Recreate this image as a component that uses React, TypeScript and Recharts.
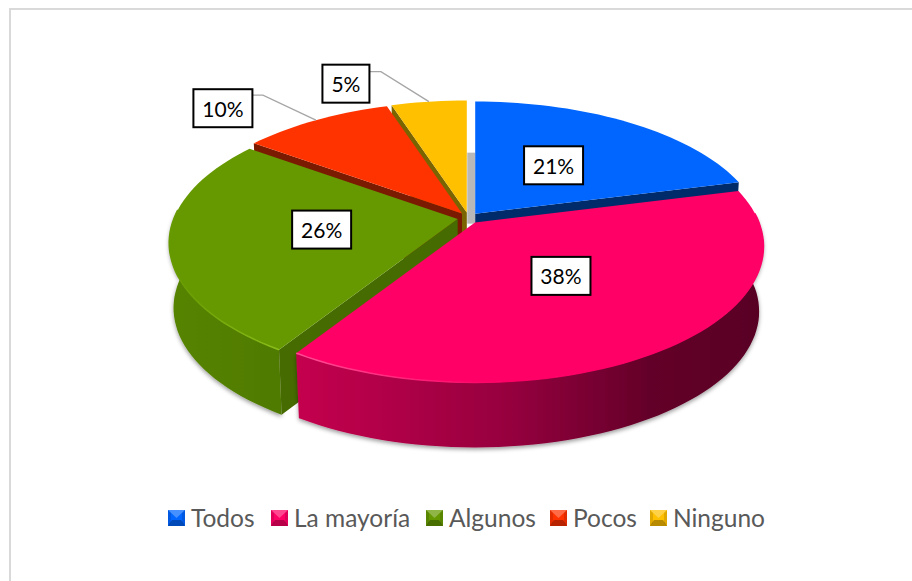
import { Legend, Pie, PieChart } from "recharts";

const categories = ["Todos", "La mayoría", "Algunos", "Pocos", "Ninguno"];
const shares = [21, 38, 26, 10, 5];

const topColors = ["#0066FF", "#FF0066", "#669900", "#FF3300", "#FFC000"];
const faceColors = ["#002B6B", "#5A0026", "#466B00", "#7A1A00", "#7A6400"];
const rimColors = ["#0066FF", "url(#rimPink)", "url(#rimGreen)", "#FF3300", "#FFC000"];
const wallFills = ["#002B6B", "url(#wallPink)", "url(#wallGreen)", "#7A1A00", "#7A6400"];

const chartData = categories.map((name, i) => ({ name, value: shares[i] }));

// back to front, the pie is tilted so the later slices overlap the earlier ones
const drawOrder = [0, 4, 3, 2, 1];

const CX = 468.5;
const CY = 218;
const RADIUS = 284;
const TILT = 131.8;
const PERSPECTIVE = 0.176;
const DEPTH = 65;
const EXPLODE = 11;

const rad = (deg: number) => (deg * Math.PI) / 180;

function project(angle: number, t = 1) {
  const u = Math.cos(rad(angle)) * t;
  const v = Math.sin(rad(angle)) * t;
  const w = 1 + PERSPECTIVE * v;
  return { x: (RADIUS * u) / w, y: (-TILT * v) / w };
}

function apexOf(midAngle: number, cx: number, cy: number) {
  return {
    x: cx + EXPLODE * Math.cos(rad(midAngle)),
    y: cy - EXPLODE * 0.5 * Math.sin(rad(midAngle)),
  };
}

function sweep(from: number, to: number) {
  const out: number[] = [];
  for (let a = from; a > to; a -= 2) out.push(a);
  out.push(to);
  return out;
}

const toLine = (pts: { x: number; y: number }[]) =>
  pts.map((p, i) => `${i ? "L" : "M"}${p.x.toFixed(1)} ${p.y.toFixed(1)}`).join(" ");

const toPath = (pts: { x: number; y: number }[]) => toLine(pts) + " Z";

function makeSlice(only: number) {
  return function SliceShape(props: any) {
    const { name, cx, cy, startAngle, endAngle, midAngle } = props;
    if (categories.indexOf(name) !== only) return null;

    const apex = apexOf(midAngle, cx, cy);
    const rim = (a: number) => {
      const p = project(a);
      return { x: apex.x + p.x, y: apex.y + p.y };
    };
    const low = (a: number) => {
      const p = project(a);
      return { x: apex.x + p.x * 0.985, y: apex.y + p.y + DEPTH };
    };

    const arc = sweep(startAngle, endAngle).map(rim);
    const top = toPath([apex, ...arc]);

    // outer wall only for the part of the rim facing us, one quad per step
    // so the silhouette stays straight where the rim turns away
    const wallFrom = Math.min(startAngle, 4);
    const wallTo = Math.max(endAngle, -184);
    const hasWall = wallFrom > wallTo;
    const wallAngles = hasWall ? sweep(wallFrom, wallTo) : [];
    const wall = wallAngles
      .slice(1)
      .map((a, k) => toPath([rim(wallAngles[k]), rim(a), low(a), low(wallAngles[k])]))
      .join(" ");

    const cutFace = (a: number) =>
      toPath([apex, rim(a), low(a), { x: apex.x, y: apex.y + DEPTH }]);
    const showStart = Math.cos(rad(startAngle)) < -0.01;
    const showEnd = Math.cos(rad(endAngle)) > 0.01;

    return (
      <g>
        {only === 0 && (
          <rect x={apex.x - 8} y={apex.y - 61} width={8} height={71} fill="#B8B8B8" />
        )}
        {hasWall && <path d={wall} fill={wallFills[only]} filter="url(#wallShadow)" />}
        {showStart && <path d={cutFace(startAngle)} fill={faceColors[only]} />}
        {showEnd && <path d={cutFace(endAngle)} fill={faceColors[only]} />}
        <path d={top} fill={topColors[only]} />
        {hasWall && (
          <path d={toLine(wallAngles.map(rim))} fill="none" stroke={rimColors[only]} strokeWidth={1.5} />
        )}
      </g>
    );
  };
}

const noShape = () => null;

// the two small slices get their label outside with a leader line
const callouts: Record<string, { elbow: [number, number]; box: [number, number] }> = {
  Pocos: { elbow: [-53, -25], box: [-93, -12] },
  Ninguno: { elbow: [-48, -30], box: [-83, -18] },
};
const LABEL_T = 0.48;

function renderLabel(props: any) {
  const { cx, cy, midAngle, name, value } = props;
  const apex = apexOf(midAngle, cx, cy);
  const text = `${value}%`;
  const w = text.length > 2 ? 59 : 47;
  const h = 38;
  const call = callouts[name];
  let lx: number;
  let ly: number;
  let leader = null;
  if (call) {
    const p = project(midAngle);
    const rx = apex.x + p.x;
    const ry = apex.y + p.y;
    lx = rx + call.box[0];
    ly = ry + call.box[1];
    const ex = rx + call.elbow[0];
    const ey = ry + call.elbow[1];
    leader = (
      <path d={`M${rx} ${ry} L${ex} ${ey} L${lx + w / 2} ${ey}`} fill="none" stroke="#A6A6A6" strokeWidth={1.3} />
    );
  } else {
    const p = project(midAngle, LABEL_T);
    lx = apex.x + p.x;
    ly = apex.y + p.y - 1.5;
  }
  return (
    <g>
      {leader}
      <rect x={lx - w / 2} y={ly - h / 2} width={w} height={h} fill="#FFFFFF" stroke="#000000" strokeWidth={2} />
      <text
        x={lx}
        y={ly}
        textAnchor="middle"
        dominantBaseline="central"
        fontFamily="Lato, 'Open Sans', sans-serif"
        fontSize={21}
        fill="#000000"
      >
        {text}
      </text>
    </g>
  );
}

function LegendIcon({ i }: { i: number }) {
  return (
    <svg width={17} height={16} style={{ display: "block", marginRight: 6 }}>
      <rect width={17} height={16} fill={topColors[i]} />
      <polygon points="0,0 17,0 8.5,8" fill="#FFFFFF" opacity={0.28} />
      <polygon points="0,16 17,16 13,10 4,10" fill="#000000" opacity={0.28} />
      <polygon points="0,0 3,3 3,13 0,16" fill="#000000" opacity={0.12} />
      <polygon points="17,0 14,3 14,13 17,16" fill="#000000" opacity={0.12} />
    </svg>
  );
}

const legendWidths = [103, 155, 124, 100, 115];

function ChartLegend() {
  return (
    <div
      style={{
        display: "flex",
        alignItems: "center",
        fontFamily: "Lato, 'Open Sans', sans-serif",
        fontSize: 24.5,
        color: "#595959",
        whiteSpace: "nowrap",
      }}
    >
      {categories.map((name, i) => (
        <div key={name} style={{ display: "flex", alignItems: "center", width: legendWidths[i] }}>
          <LegendIcon i={i} />
          <span>{name}</span>
        </div>
      ))}
    </div>
  );
}

export default function App() {
  return (
    <div style={{ position: "absolute", left: 0, top: 0, width: 912, height: 581, background: "#FFFFFF", overflow: "hidden" }}>
      <div
        style={{
          position: "absolute",
          left: 9,
          top: 8,
          width: 920,
          height: 590,
          border: "2px solid #D9D9D9",
        }}
      />
      <PieChart width={912} height={581} margin={{ top: 0, right: 0, bottom: 0, left: 0 }} style={{ position: "absolute", left: 0, top: 0 }}>
        <defs>
          <linearGradient id="wallPink" gradientUnits="userSpaceOnUse" x1="298" y1="0" x2="765" y2="0">
            <stop offset="0%" stopColor="#C4004E" />
            <stop offset="45%" stopColor="#96003E" />
            <stop offset="75%" stopColor="#640029" />
            <stop offset="100%" stopColor="#580024" />
          </linearGradient>
          <linearGradient id="wallGreen" gradientUnits="userSpaceOnUse" x1="168" y1="0" x2="285" y2="0">
            <stop offset="0%" stopColor="#568400" />
            <stop offset="100%" stopColor="#4F7A00" />
          </linearGradient>
          <linearGradient id="rimPink" gradientUnits="userSpaceOnUse" x1="298" y1="0" x2="500" y2="0">
            <stop offset="0%" stopColor="#FF4D94" />
            <stop offset="100%" stopColor="#FF0066" />
          </linearGradient>
          <linearGradient id="rimGreen" gradientUnits="userSpaceOnUse" x1="168" y1="0" x2="285" y2="0">
            <stop offset="0%" stopColor="#669900" />
            <stop offset="100%" stopColor="#8CBF1A" />
          </linearGradient>
          <filter id="wallShadow" x="-10%" y="-10%" width="120%" height="125%">
            <feDropShadow dx={0} dy={2} stdDeviation={2} floodColor="#000000" floodOpacity={0.4} />
          </filter>
        </defs>
        {drawOrder.map((i) => (
          <Pie
            key={categories[i]}
            data={chartData}
            dataKey="value"
            nameKey="name"
            cx={CX}
            cy={CY}
            outerRadius={RADIUS}
            startAngle={90}
            endAngle={-270}
            stroke="none"
            legendType="none"
            isAnimationActive={false}
            shape={makeSlice(i)}
          />
        ))}
        <Pie
          data={chartData}
          dataKey="value"
          nameKey="name"
          cx={CX}
          cy={CY}
          outerRadius={RADIUS}
          startAngle={90}
          endAngle={-270}
          stroke="none"
          legendType="none"
          isAnimationActive={false}
          shape={noShape}
          label={renderLabel}
          labelLine={false}
        />
        <Legend content={ChartLegend} wrapperStyle={{ position: "absolute", left: 168, top: 503, width: "auto" }} />
      </PieChart>
    </div>
  );
}
